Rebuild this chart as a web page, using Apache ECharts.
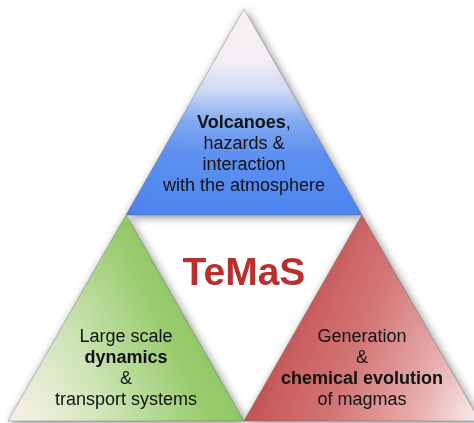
<!DOCTYPE html>
<html>
<head>
<meta charset="utf-8">
<script src="https://cdn.jsdelivr.net/npm/echarts@6/dist/echarts.min.js"></script>
<style>
html, body { margin: 0; padding: 0; background: #fff; }
#chart { width: 474px; height: 423px; }
</style>
</head>
<body>
<div id="chart"></div>
<script>
// triangles on a lattice: centre column and base row, in triangle units
var themes = ['volcanoes', 'dynamics', 'magmas'];
var centres = [1, 0.5, 1.5];
var baseRows = [1, 0, 0];
var labels = [
    '{b|Volcanoes},\nhazards &\ninteraction\nwith the atmosphere',
    'Large scale\n{b|dynamics}\n&\ntransport systems',
    'Generation\n&\n{b|chemical evolution}\nof magmas'
];
var centreTitle = 'TeMaS';

// how far above the base the text block sits (triangle heights)
var labelLift = [0.294, 0.255, 0.255];

var font = 'Liberation Sans';

var fills = [
    new echarts.graphic.LinearGradient(0, 0, 0, 1, [
        {offset: 0, color: '#fdf4f2'},
        {offset: 0.25, color: '#f5f0f5'},
        {offset: 0.4, color: '#cddaf6'},
        {offset: 0.55, color: '#80a8f2'},
        {offset: 0.7, color: '#5e91f0'},
        {offset: 1, color: '#4d85ef'}
    ]),
    new echarts.graphic.LinearGradient(0, 1, 1, 0.45, [
        {offset: 0, color: '#fcf3ef'},
        {offset: 0.35, color: '#cfe5b8'},
        {offset: 0.7, color: '#99cb6d'},
        {offset: 1, color: '#8ac45a'}
    ]),
    new echarts.graphic.LinearGradient(0, 0.55, 1, 1, [
        {offset: 0, color: '#c0474a'},
        {offset: 0.45, color: '#d37676'},
        {offset: 0.75, color: '#e7adad'},
        {offset: 1, color: '#fcf1f1'}
    ])
];

var myc = echarts.init(document.getElementById('chart'));

var seriesData = themes.map(function (t, i) {
    return [centres[i], baseRows[i], i];
});

function renderTriangle(params, api) {
    var cx = api.value(0);
    var base = api.value(1);
    var i = api.value(2);
    var apex = api.coord([cx, base + 1]);
    var left = api.coord([cx - 0.5, base]);
    var right = api.coord([cx + 0.5, base]);
    var textPos = api.coord([cx, base + labelLift[i]]);
    return {
        type: 'group',
        children: [
            {
                type: 'polygon',
                shape: { points: [apex, right, left] },
                style: {
                    fill: fills[i],
                    stroke: 'rgba(90,90,90,0.35)',
                    lineWidth: 1,
                    shadowBlur: 10,
                    shadowColor: 'rgba(0,0,0,0.45)',
                    shadowOffsetX: 2,
                    shadowOffsetY: 2
                }
            },
            {
                type: 'text',
                x: textPos[0],
                y: textPos[1],
                style: {
                    text: labels[i],
                    fill: '#111',
                    fontFamily: font,
                    fontSize: 18,
                    align: 'center',
                    verticalAlign: 'middle',
                    lineHeight: 21,
                    rich: {
                        b: {
                            fontWeight: 'bold',
                            fontSize: 18,
                            fontFamily: font,
                            lineHeight: 21,
                            fill: '#111'
                        }
                    }
                }
            }
        ]
    };
}

var options = {
    animation: false,
    grid: { left: 8, top: 9, right: 0, bottom: 2 },
    // right triangle runs a little past the page edge
    xAxis: { type: 'value', min: 0, max: 1.975, show: false },
    yAxis: { type: 'value', min: 0, max: 2, show: false },
    series: [
        {
            type: 'custom',
            clip: false,
            renderItem: renderTriangle,
            data: seriesData
        },
        {
            // centre word in the inverted gap
            type: 'scatter',
            symbolSize: 0,
            data: [[1, 0.71]],
            itemStyle: { opacity: 1 },
            label: {
                show: true,
                position: 'inside',
                formatter: centreTitle,
                color: '#b8302d',
                fontFamily: font,
                fontWeight: 'bold',
                fontSize: 39
            },
            emphasis: { disabled: true },
            silent: true
        }
    ]
};
myc.setOption(options);
</script>
</body>
</html>
